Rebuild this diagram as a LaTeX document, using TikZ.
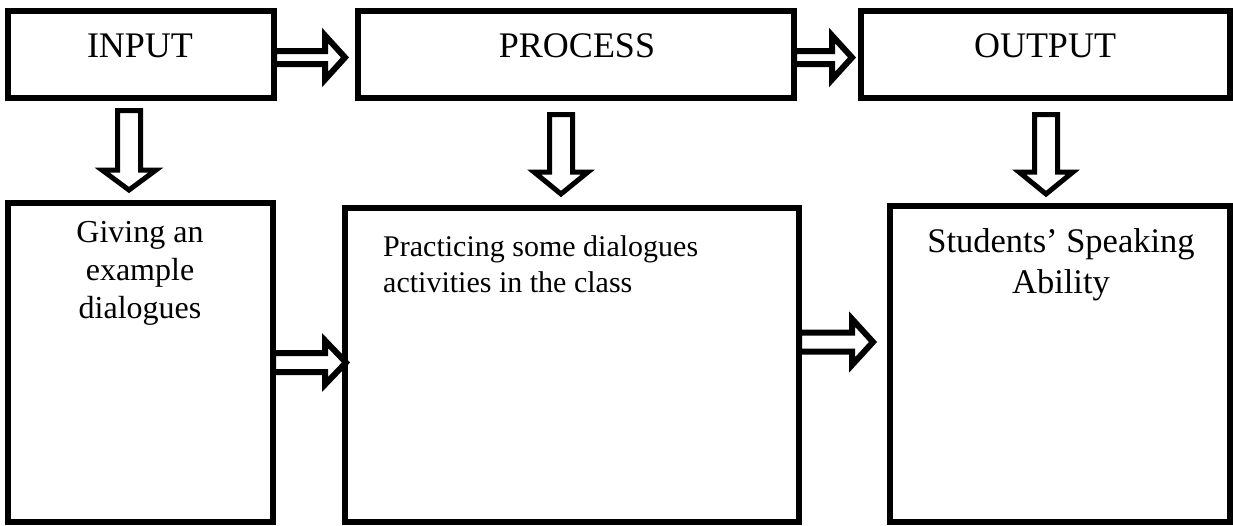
\documentclass[tikz,border=0pt]{standalone}
\usepackage{fontspec}
\setmainfont{Liberation Serif}
\usetikzlibrary{calc}
\newcommand\rblock[5]{% start, shaft length, shaft half, head half, head length
  \draw[blk] #1 ++(0,-#3) -- ++(#2,0) -- ++(0,{-(#4-#3)}) -- ++(#5,#4) -- ++(-#5,#4) -- ++(0,{-(#4-#3)}) -- ++(-#2,0) -- cycle;}
\newcommand\dblock[5]{% top, shaft length, shaft half, head half, head length
  \draw[blk,line width=5pt] #1 ++(-#3,0) -- ++(0,#2) -- ++({-(#4-#3)},0) -- ++(#4,#5) -- ++(#4,-#5) -- ++({-(#4-#3)},0) -- ++(0,-#2) -- cycle;}
\begin{document}
\begin{tikzpicture}[x=1pt,y=-1pt,
  box/.style={draw,line width=6pt,outer sep=0pt,inner sep=0pt,anchor=north west},
  blk/.style={draw,line width=6pt,fill=white,line join=miter},
  txt/.style={inner sep=0pt,font=\fontsize{36}{40}\selectfont}]
\useasboundingbox[fill=white] (0,0) rectangle (1233,525);
% top boxes
\node[box,minimum width=266pt,minimum height=87pt] (in) at (8,11) {};
\node[box,minimum width=436pt,minimum height=87pt] (proc) at (358,11) {};
\node[box,minimum width=369pt,minimum height=87pt] (out) at (861,11) {};
% bottom boxes
\node[box,minimum width=265pt,minimum height=319pt] (gv) at (8,203) {};
\node[box,minimum width=454pt,minimum height=314pt] (pr) at (345,208) {};
\node[box,minimum width=340pt,minimum height=316pt] (st) at (890,206) {};
% texts
\node[txt,anchor=base] (tin) at (140,57) {INPUT};
\node[txt,anchor=base] (tproc) at (577,57) {PROCESS};
\node[txt,anchor=base] (tout) at (1045,57) {OUTPUT};
\node[txt,anchor=north,align=center,font=\fontsize{32}{38}\selectfont] (tgv) at (140,221) {Giving an\\example\\dialogues};
\node[txt,anchor=north west,align=left,font=\fontsize{30}{36}\selectfont] (tpr) at (383,235) {Practicing some dialogues\\activities in the class};
\node[txt,anchor=north,align=center,font=\fontsize{34.5}{41}\selectfont] (tst) at (1061,228) {Students’ Speaking\\Ability};
% horizontal block arrows
\rblock{($(in.east)+(0,3)$)}{51}{6.5}{22}{20}
\rblock{($(proc.east)+(0,3)$)}{38}{6.5}{22}{20}
\rblock{(gv.east)}{52}{9.5}{22}{21}
\rblock{($(pr.east)+(0,-23)$)}{53}{9.5}{23}{21}
% vertical block arrows
\dblock{($(in.south)+(-12,12.5)$)}{59.5}{11.5}{27}{20}
\dblock{($(proc.south)+(-15,16.5)$)}{57.5}{11.5}{27}{22}
\dblock{($(out.south)+(0.5,16.5)$)}{57.5}{11.5}{27}{22}
\end{tikzpicture}
\end{document}
